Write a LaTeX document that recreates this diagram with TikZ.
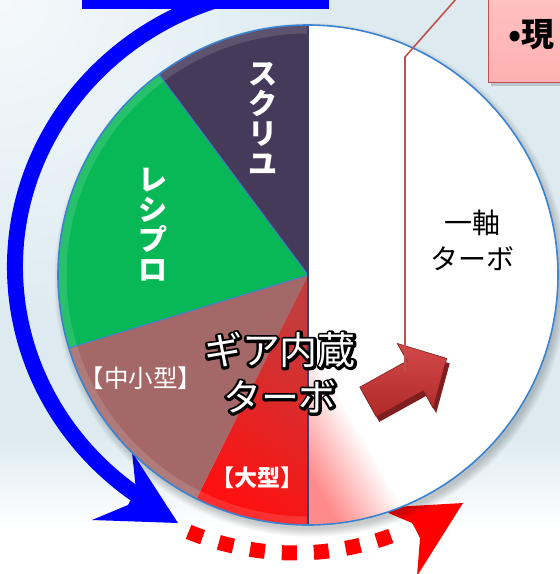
\documentclass[tikz,border=0pt]{standalone}
\usepackage{fontspec}
\newfontfamily\jp{Noto Sans CJK JP}
\usetikzlibrary{calc}
\definecolor{bgblue}{HTML}{DDEBF1}
\definecolor{bglight}{HTML}{F5F9FB}
\definecolor{screwc}{HTML}{463A5A}
\definecolor{recipc}{HTML}{08B856}
\definecolor{smallc}{HTML}{A46868}
\definecolor{largec}{HTML}{FF1010}
\definecolor{larged}{HTML}{C43C3C}
\definecolor{pinkA}{HTML}{FF8A8A}
\definecolor{rimc}{HTML}{3B82D0}
\definecolor{divc}{HTML}{3A3F6E}
\definecolor{calloutc}{HTML}{C0504D}
\definecolor{boxpink}{HTML}{FFB0B0}
\definecolor{boxpinkt}{HTML}{FFC4C4}
\definecolor{arrowred}{HTML}{D24848}
\definecolor{arrowredb}{HTML}{B02A2A}
\definecolor{arrowdark}{HTML}{7E1E1E}
\pgfdeclareverticalshading{bgshade}{100bp}{color(0bp)=(white); color(25bp)=(white); color(29bp)=(white); color(37bp)=(bgblue); color(100bp)=(bgblue)}
\pgfdeclarehorizontalshading{pinkfade}{100bp}{color(0bp)=(pinkA); color(21bp)=(pinkA); color(34bp)=(white); color(100bp)=(white)}
\newcommand\strokedtext[1]{\special{pdf:literal direct 1 Tr 5 w 1 j 1 J}#1\special{pdf:literal direct 0 Tr}}
\tikzset{
  lbl/.style={text=white, inner sep=0pt, align=center},
  vlbl/.style={lbl, font={\jp\bfseries\fontsize{29}{30}\selectfont}},
  geartxt/.style={inner sep=0pt, align=center, font={\jp\fontsize{38}{47}\selectfont}},
  bluearc/.style={draw=blue, line width=16pt},
  reddots/.style={draw=red, line width=15pt, dash pattern=on 15pt off 17pt},
  pointer/.style={draw=calloutc, line width=1.6pt},
}
\begin{document}
\begin{tikzpicture}[x=1pt, y=-1pt]
\useasboundingbox (0,0) rectangle (560,574);
\clip (0,0) rectangle (560,574);
% background
\shade[shading=bgshade] (0,0) rectangle (560,574);
\shade[inner color=bglight, outer color=bgblue] (0,0) circle (320);
% blue bar at top
\fill[blue] (82,-5) rectangle (329,8.5);
% blue arc arrow
\coordinate (bc) at (308,267);
\draw[bluearc] ($(bc)+(262:293 and 281)$) coordinate (bstart)
  arc[start angle=262, end angle=126, x radius=293, y radius=281] coordinate (bend);
\fill[blue] (178,523) -- (92,520) -- (128,505) -- (133,496) -- (136,490) -- (132,452) -- cycle;
% red dotted arc arrow
\coordinate (rc) at (295,275);
\draw[reddots] ($(rc)+(112.5:278)$) coordinate (rstart)
  arc[start angle=112.5, end angle=66.6, radius=278] coordinate (rend);
\fill[red] (463,503) -- (377,508) -- (412,523) -- (416,530) -- (420,538) -- (417,576) -- cycle;
% pie shadow
\foreach \i in {1,...,9} \fill[black, opacity=0.022] (311,280) circle ({248+\i});
% pie
\begin{scope}[shift={(308,275)}]
  \coordinate (O) at (0,0);
  \fill[white] (0,-250) arc[start angle=-90, end angle=90, radius=250] -- cycle;
  \begin{scope}
    \clip (0,-250) arc[start angle=-90, end angle=90, radius=250] -- cycle;
    \shade[shading=pinkfade, shading angle=30] (0,0) rectangle (250,250);
  \end{scope}
  \shade[shading=axis, bottom color=largec, top color=larged, shading angle=-35]
    (0,0) -- (116.5:250) arc[start angle=116.5, end angle=90, radius=250] -- cycle;
  \fill[smallc] (0,0) -- (163:250) arc[start angle=163, end angle=116.5, radius=250] -- cycle;
  \fill[recipc] (0,0) -- (233.4:250) arc[start angle=233.4, end angle=163, radius=250] -- cycle;
  \fill[screwc] (0,0) -- (270:250) arc[start angle=270, end angle=233.4, radius=250] -- cycle;
  \begin{scope}
    \clip (0,0) -- (90:250) arc[start angle=90, end angle=270, radius=250] -- cycle;
    \draw[white, opacity=0.13, line width=9pt] (0,0) circle (246);
  \end{scope}
  \draw[rimc, line width=1pt] (0,0) -- (233.4:250) (0,0) -- (163:250);
  \draw[divc, line width=1.2pt] (0,-250) -- (0,250);
  \draw[rimc, line width=1.6pt] (0,0) circle (250);
\end{scope}
% labels
\node[vlbl] (screwlbl) at (263,119) {ス\\ク\\リ\\ユ};
\node[vlbl] (reciplbl) at (153,225) {レ\\シ\\プ\\ロ};
\node[lbl, font={\jp\fontsize{24.5}{24.5}\selectfont}] (smalllbl) at (141,378) {【中小型】};
\node[lbl, font={\jp\bfseries\fontsize{23}{23}\selectfont}] (largelbl) at (257,478) {【大型】};
\node[inner sep=0pt, align=center, font={\jp\fontsize{28}{36}\selectfont}] (onelbl) at (472,240) {一軸\\ターボ};
\coordinate (gearpos) at (280,373);
\node[geartxt, text=black] (gearoutline) at (gearpos) {\strokedtext{ギア内蔵}\\\strokedtext{ターボ}};
\node[geartxt, text=white] (gearlbl) at (gearpos) {ギア内蔵\\ターボ};
% 3D arrow
\begin{scope}[shift={(371,407)}, rotate=29]
  \fill[arrowdark] (0,-17) -- (54,-17) -- (54,-37) -- (90,0) -- (54,37) -- (54,17) -- (0,17) -- cycle;
\end{scope}
\begin{scope}[shift={(368,402)}, rotate=29]
  \shade[top color=arrowred, bottom color=arrowredb, draw=arrowdark, line width=0.6pt]
    (0,-17) -- (54,-17) -- (54,-37) -- (90,0) -- (54,37) -- (54,17) -- (0,17) -- cycle;
\end{scope}
% callout box
\fill[black, opacity=0.15] (491,-20) rectangle (600,86);
\node[draw=calloutc, line width=1.2pt, top color=boxpinkt, bottom color=boxpink,
  anchor=north west, minimum width=120pt, minimum height=102pt, inner sep=0pt] (callout) at (488,-20) {};
\node[anchor=base west, inner sep=0pt, font={\jp\bfseries\fontsize{33}{33}\selectfont}] (calltxt) at (508,46) {•現};
% pointer line
\coordinate (p0) at (464,-10);
\coordinate (p1) at (405,57);
\coordinate (p2) at (405,372);
\draw[pointer] (p0) -- (p1) -- (p2);
\end{tikzpicture}
\end{document}
